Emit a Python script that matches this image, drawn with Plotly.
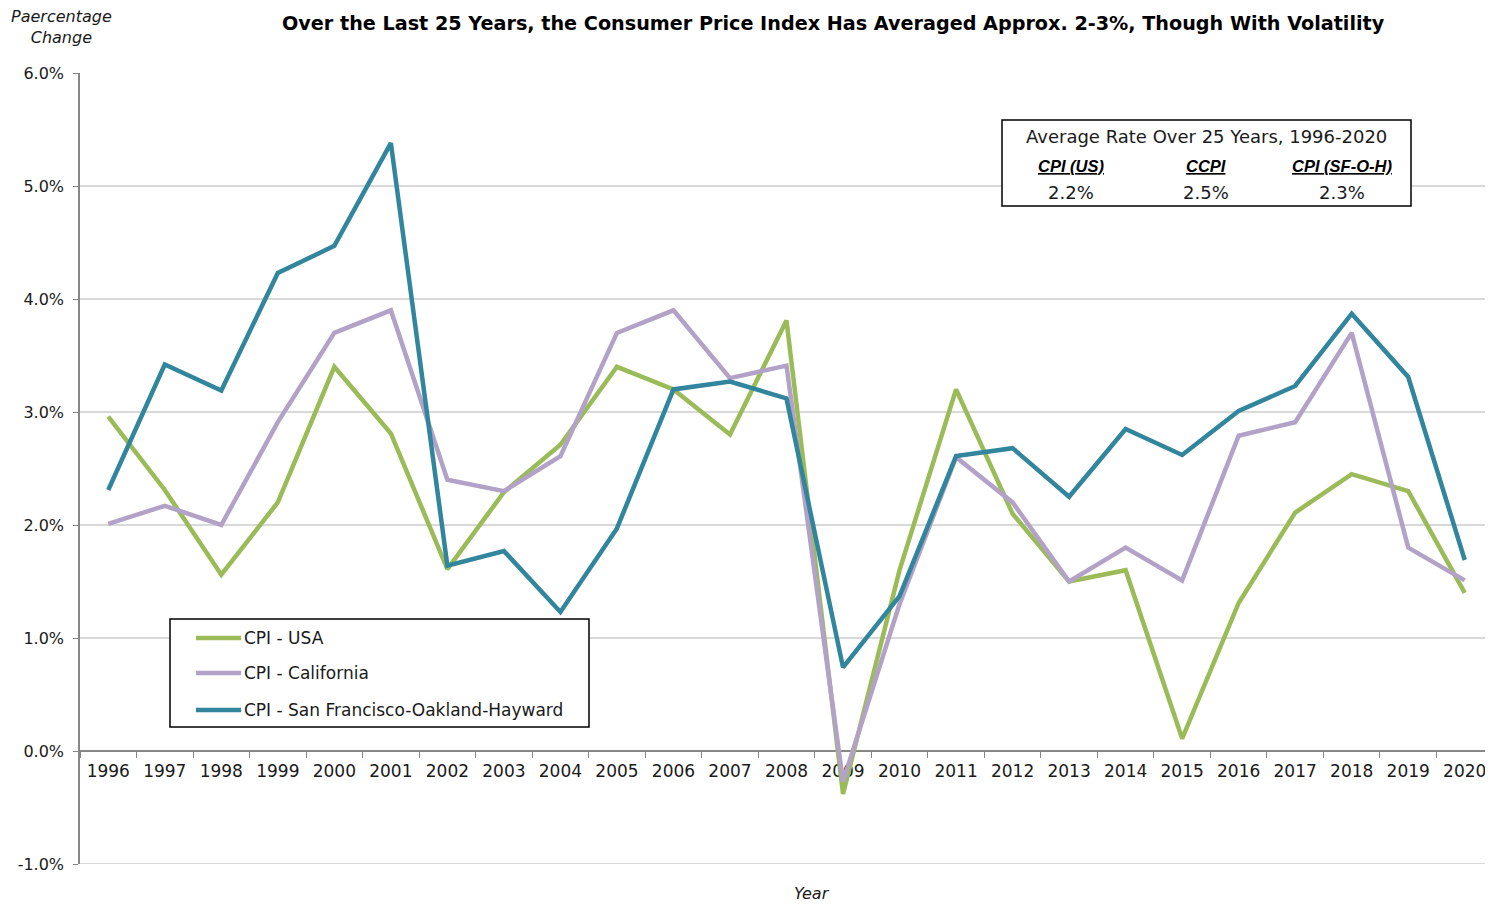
import plotly.graph_objects as go

years = [str(y) for y in range(1996, 2021)]
cpi_usa = [2.96, 2.31, 1.56, 2.2, 3.4, 2.81, 1.61, 2.29, 2.71, 3.4, 3.2, 2.8, 3.81, -0.38,
           1.6, 3.2, 2.1, 1.5, 1.6, 0.11, 1.31, 2.11, 2.45, 2.3, 1.4]
cpi_ca = [2.01, 2.17, 2.0, 2.91, 3.7, 3.9, 2.4, 2.3, 2.61, 3.7, 3.9, 3.3, 3.41, -0.27,
          1.3, 2.6, 2.2, 1.5, 1.8, 1.51, 2.79, 2.91, 3.7, 1.8, 1.51]
cpi_sf = [2.31, 3.42, 3.19, 4.23, 4.47, 5.38, 1.64, 1.77, 1.23, 1.97, 3.2, 3.27, 3.12, 0.74,
          1.37, 2.61, 2.68, 2.25, 2.85, 2.62, 3.01, 3.23, 3.87, 3.31, 1.69]
series_names = ["CPI - USA", "CPI - California", "CPI - San Francisco-Oakland-Hayward"]
series_colors = ["#9BBB59", "#B3A2C7", "#31859C"]
y_tickvals = [-1, 0, 1, 2, 3, 4, 5, 6]
y_ticktext = ["-1.0%", "0.0%", "1.0%", "2.0%", "3.0%", "4.0%", "5.0%", "6.0%"]
avg_labels = ["CPI (US)", "CCPI", "CPI (SF-O-H)"]
avg_values = ["2.2%", "2.5%", "2.3%"]

# page body has an 8px margin: work in window pixels and subtract it
OFF = 8
W, H = 1493 - OFF, 904 - OFF
ML, MR, MT, MB = 80 - OFF, 0, 73 - OFF, 40
PW, PH = W - ML - MR, H - MT - MB


def px(x):
    return (x - OFF - ML) / PW


def py(y):
    return (H - MB - (y - OFF)) / PH


TICK_FONT = "DejaVu Sans"
fig = go.Figure()
for vals, name, color in zip([cpi_usa, cpi_ca, cpi_sf], series_names, series_colors):
    fig.add_trace(go.Scatter(x=years, y=vals, mode="lines", name=name,
                             line=dict(color=color, width=4.5), showlegend=False))

fig.update_layout(
    width=W, height=H,
    margin=dict(l=ML, r=MR, t=MT, b=MB, pad=0),
    plot_bgcolor="white", paper_bgcolor="white",
    xaxis=dict(type="category", range=[-0.5, 24.5], anchor="free", position=1 / 7,
               showline=True, linecolor="#868686", linewidth=1.5,
               ticks="outside", tickson="boundaries", ticklen=6, tickcolor="#868686",
               ticklabelstandoff=5,
               showgrid=False, zeroline=False, layer="below traces",
               tickfont=dict(family=TICK_FONT, size=17, color="#1a1a1a")),
    yaxis=dict(range=[-1, 6], tickmode="array", tickvals=y_tickvals, ticktext=y_ticktext,
               showline=True, linecolor="#868686", linewidth=1.5,
               ticks="outside", ticklen=5, tickcolor="#868686", ticklabelstandoff=6,
               showgrid=True, gridcolor="#D9D9D9", gridwidth=1.5, zeroline=False,
               tickfont=dict(family=TICK_FONT, size=16, color="#1a1a1a")),
)

annotations = []
shapes = []

# bottom gridline at the lowest tick
shapes.append(dict(type="line", xref="paper", yref="y", x0=0, x1=1,
                   y0=y_tickvals[0], y1=y_tickvals[0],
                   line=dict(color="#D9D9D9", width=2), layer="below"))

# Title
annotations.append(dict(
    text="<b>Over the Last 25 Years, the Consumer Price Index Has Averaged Approx. 2-3%, Though With Volatility</b>",
    xref="paper", yref="paper", x=px(833.5), y=py(24), xanchor="center", yanchor="middle",
    showarrow=False, font=dict(family="DejaVu Sans", size=19.2, color="#000000")))
# Y axis title
annotations.append(dict(
    text="<i>Paercentage<br>Change</i>", xref="paper", yref="paper", x=px(61), y=py(27),
    xanchor="center", yanchor="middle", showarrow=False, align="center",
    font=dict(family=TICK_FONT, size=16, color="#1a1a1a")))
# X axis title
annotations.append(dict(
    text="<i>Year</i>", xref="paper", yref="paper", x=px(812), y=py(893),
    xanchor="center", yanchor="middle", showarrow=False,
    font=dict(family=TICK_FONT, size=16, color="#1a1a1a")))

# Summary box
shapes.append(dict(type="rect", xref="paper", yref="paper",
                   x0=px(1002), x1=px(1411), y0=py(120), y1=py(206),
                   line=dict(color="#000000", width=1.5), fillcolor="white", layer="above"))
annotations.append(dict(
    text="Average Rate Over 25 Years, 1996-2020", xref="paper", yref="paper",
    x=px(1206), y=py(136), xanchor="center", yanchor="middle", showarrow=False,
    font=dict(family=TICK_FONT, size=18, color="#1a1a1a")))
col_x = [1071, 1206, 1342]
for cx, lab, val in zip(col_x, avg_labels, avg_values):
    annotations.append(dict(
        text=f"<b><i><u>{lab}</u></i></b>", xref="paper", yref="paper",
        x=px(cx), y=py(166), xanchor="center", yanchor="middle", showarrow=False,
        font=dict(family="Liberation Sans", size=16.5, color="#000000")))
    annotations.append(dict(
        text=val, xref="paper", yref="paper",
        x=px(cx), y=py(192), xanchor="center", yanchor="middle", showarrow=False,
        font=dict(family=TICK_FONT, size=18, color="#1a1a1a")))

# Legend box (manual)
shapes.append(dict(type="rect", xref="paper", yref="paper",
                   x0=px(170), x1=px(589), y0=py(619), y1=py(727),
                   line=dict(color="#000000", width=1.5), fillcolor="white", layer="above"))
leg_y = [638, 673, 710]
for ly, name, color in zip(leg_y, series_names, series_colors):
    shapes.append(dict(type="line", xref="paper", yref="paper",
                       x0=px(196), x1=px(241), y0=py(ly), y1=py(ly),
                       line=dict(color=color, width=4.5), layer="above"))
    annotations.append(dict(
        text=name, xref="paper", yref="paper", x=px(242), y=py(ly),
        xanchor="left", yanchor="middle", showarrow=False,
        font=dict(family=TICK_FONT, size=17, color="#1a1a1a")))

fig.update_layout(annotations=annotations, shapes=shapes)
fig.write_html("out.html")
